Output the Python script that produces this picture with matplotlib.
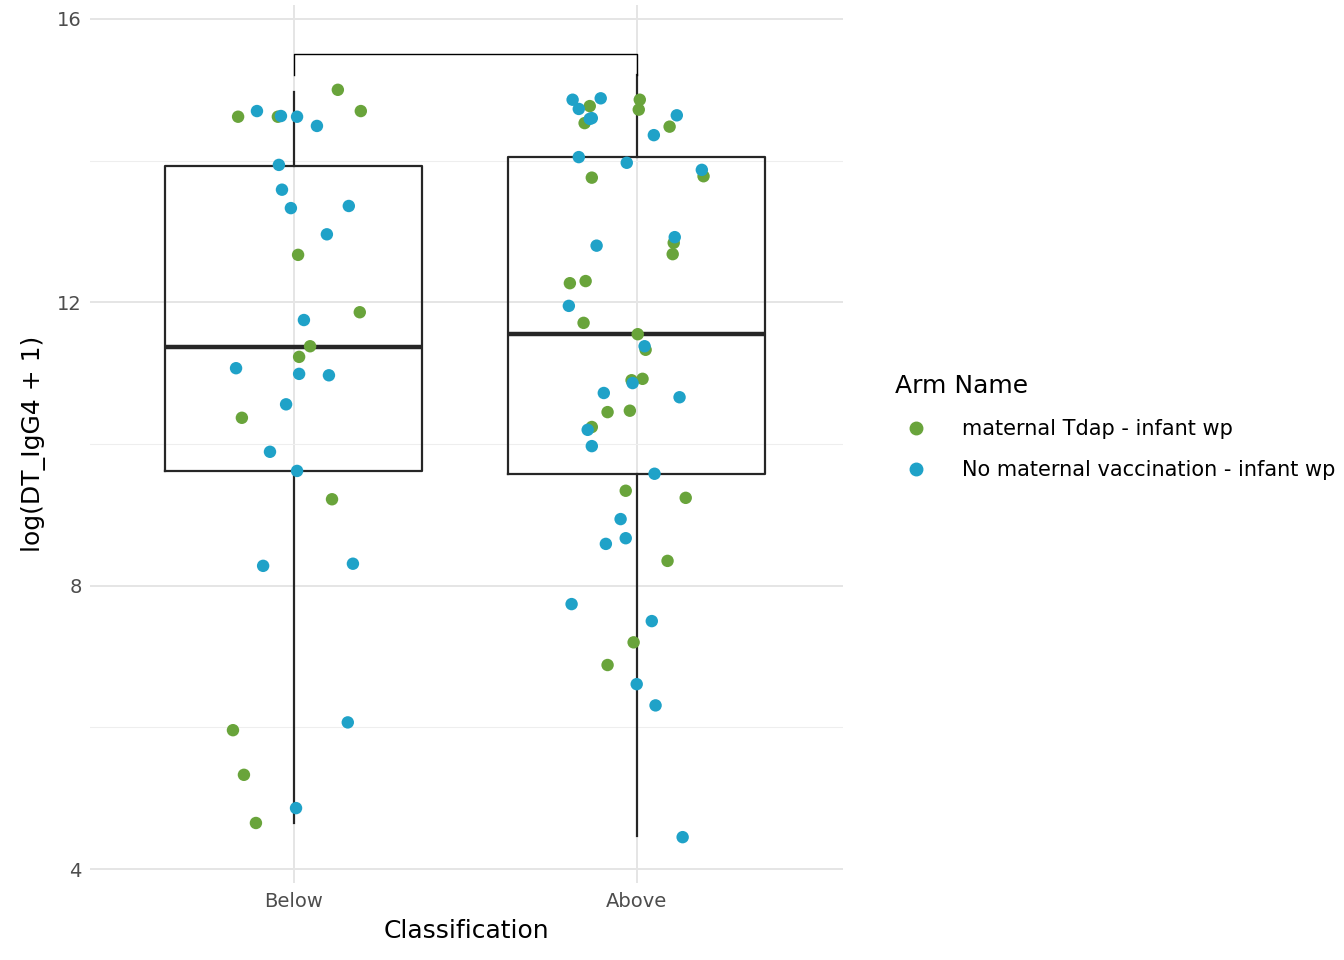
import matplotlib
matplotlib.use("Agg")
import matplotlib.pyplot as plt
from matplotlib.lines import Line2D

categories = ["Below", "Above"]
arm_names = ["maternal Tdap - infant wp", "No maternal vaccination - infant wp"]
colors = ["#69A43B", "#1FA2C8"]

# box stats per category: whislo, q1, med, q3, whishi
box_stats = {
    "Below": [4.65, 9.62, 11.37, 13.92, 14.97],
    "Above": [4.47, 9.58, 11.55, 14.05, 15.21],
}

below_green_y = [14.62,14.62,15.0,14.70,12.67,11.86,11.38,11.23,10.37,9.22,5.96,5.33,4.65]
below_green_dx = [-0.163,-0.047,0.128,0.195,0.012,0.192,0.047,0.015,-0.152,0.111,-0.178,-0.146,-0.111]
below_blue_y = [14.70,14.63,14.62,14.49,13.94,13.59,13.33,13.36,12.96,11.75,11.07,10.99,10.97,10.56,9.89,9.62,8.28,8.31,6.07,4.86]
below_blue_dx = [-0.108,-0.038,0.009,0.067,-0.044,-0.035,-0.009,0.160,0.096,0.029,-0.169,0.015,0.102,-0.023,-0.070,0.009,-0.090,0.172,0.157,0.006]
above_green_y = [14.77,14.53,14.86,14.72,14.48,13.76,13.78,12.84,12.68,12.30,12.27,11.71,11.55,11.33,10.90,10.92,10.24,10.45,10.47,9.34,9.24,8.35,7.20,6.88]
above_green_dx = [-0.137,-0.152,0.009,0.006,0.096,-0.131,0.195,0.108,0.105,-0.149,-0.195,-0.155,0.003,0.026,-0.015,0.017,-0.131,-0.085,-0.020,-0.032,0.143,0.090,-0.009,-0.085]
above_blue_y = [14.86,14.88,14.73,14.59,14.60,14.64,14.36,14.05,13.97,13.87,12.92,12.80,11.95,11.38,10.86,10.72,10.66,10.20,9.97,9.58,8.94,8.67,8.59,7.74,7.50,6.61,6.31,4.45]
above_blue_dx = [-0.187,-0.105,-0.169,-0.137,-0.131,0.117,0.050,-0.169,-0.029,0.190,0.111,-0.117,-0.198,0.023,-0.012,-0.096,0.125,-0.143,-0.131,0.052,-0.047,-0.032,-0.090,-0.190,0.044,0.000,0.055,0.134]

bracket_y = 15.51
bracket_leg = 15.21

fig = plt.figure(figsize=(13.44, 9.6), dpi=100)
ax = fig.add_axes([0.067, 0.080, 0.560, 0.915])

stats = []
for c in categories:
    lo, q1, med, q3, hi = box_stats[c]
    stats.append(dict(whislo=lo, q1=q1, med=med, q3=q3, whishi=hi, fliers=[], label=c))
ax.bxp(stats, positions=[1, 2], widths=0.75, showfliers=False, showcaps=False,
       boxprops=dict(color="#262626", linewidth=1.6),
       whiskerprops=dict(color="#262626", linewidth=1.6),
       medianprops=dict(color="#262626", linewidth=3.2), zorder=2)

groups = [
    (1, below_green_dx, below_green_y, 0),
    (1, below_blue_dx, below_blue_y, 1),
    (2, above_green_dx, above_green_y, 0),
    (2, above_blue_dx, above_blue_y, 1),
]
for pos, dx, ys, ci in groups:
    ax.scatter([pos + d for d in dx], ys, s=80, color=colors[ci], edgecolors="none", zorder=3)

ax.plot([1, 1, 2, 2], [bracket_leg, bracket_y, bracket_y, bracket_leg], color="black", lw=1.0, zorder=3)

ax.set_xlim(0.405, 2.601)
ax.set_ylim(3.8, 16.2)
ax.set_xticks([1, 2])
ax.set_xticklabels(categories)
ax.set_yticks([4, 8, 12, 16])
ax.set_yticks([6, 10, 14], minor=True)
ax.grid(True, which="major", color="#E5E5E5", lw=1.4)
ax.grid(True, which="minor", axis="y", color="#EEEEEE", lw=0.8)
ax.set_axisbelow(True)
for s in ax.spines.values():
    s.set_visible(False)
ax.tick_params(which="both", length=0, labelsize=14, colors="#4D4D4D", pad=6)
ax.set_xlabel("Classification", fontsize=18, labelpad=6)
ax.set_ylabel("log(DT_IgG4 + 1)", fontsize=18, labelpad=8)

handles = [Line2D([], [], marker="o", ls="none", color=colors[i], markersize=9, label=arm_names[i]) for i in range(2)]
leg = fig.legend(handles=handles, title="Arm Name", loc="center left", bbox_to_anchor=(0.652, 0.555),
                 frameon=False, fontsize=15, title_fontsize=18, handletextpad=1.2, labelspacing=1.0)
leg._legend_box.align = "left"

fig.savefig("out.png", dpi=100)
